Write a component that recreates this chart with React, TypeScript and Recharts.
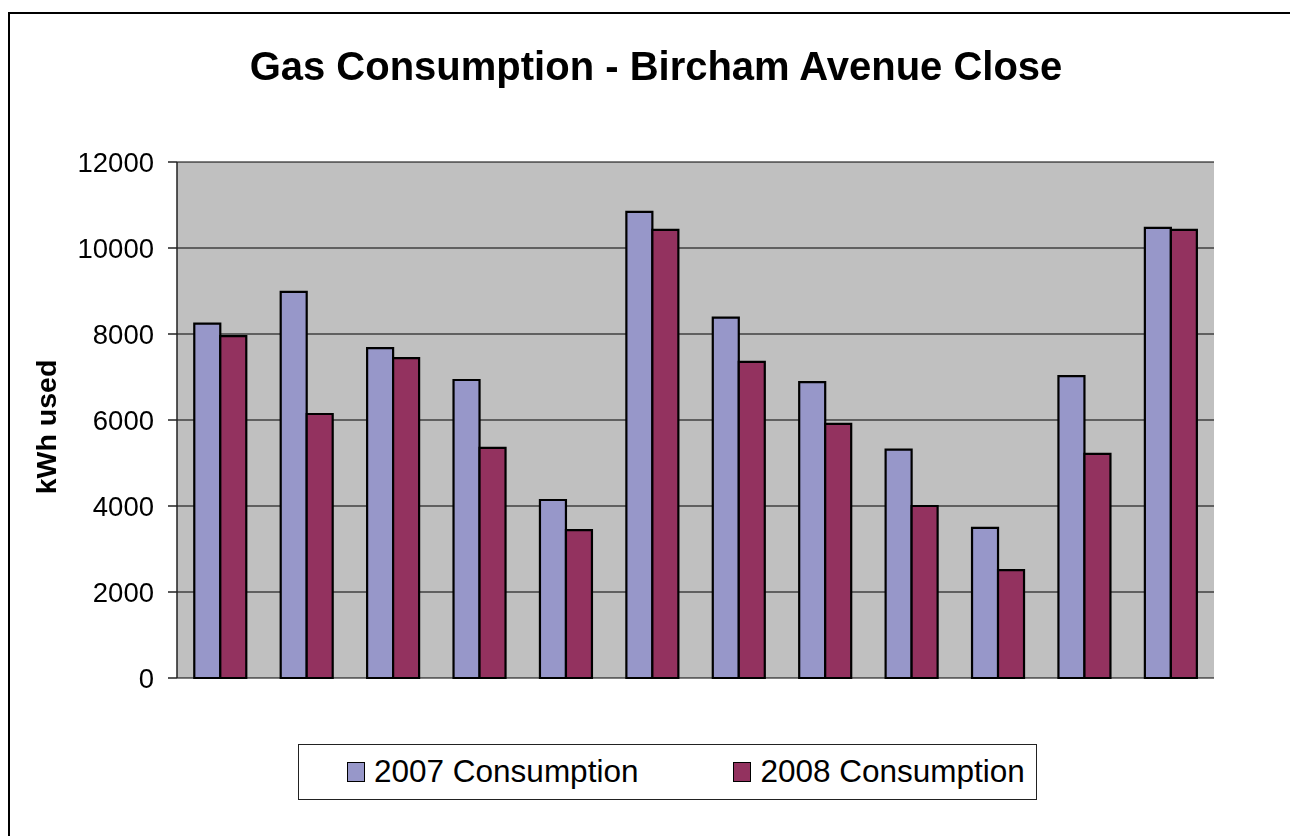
import { BarChart, Bar, XAxis, YAxis, CartesianGrid, Label } from 'recharts';

const properties = ['1', '2', '3', '4', '5', '6', '7', '8', '9', '10', '11', '12'];
const consumption2007 = [8240, 8980, 7670, 6930, 4140, 10840, 8380, 6880, 5310, 3490, 7020, 10470];
const consumption2008 = [7950, 6140, 7440, 5350, 3440, 10420, 7350, 5910, 4000, 2510, 5210, 10420];
const yTicks = [0, 2000, 4000, 6000, 8000, 10000, 12000];

const data = properties.map((name, i) => ({
  name,
  c2007: consumption2007[i],
  c2008: consumption2008[i],
}));

const FONT = '"Liberation Sans", Arial, sans-serif';
const COLOR_2007 = '#9797C9';
const COLOR_2008 = '#93325F';

function LegendItem({ color, label }: { color: string; label: string }) {
  return (
    <div style={{ display: 'flex', alignItems: 'center' }}>
      <div
        style={{
          width: 16,
          height: 18,
          background: color,
          border: '1.5px solid #000',
          marginRight: 9,
        }}
      />
      <span style={{ fontSize: 31.5, lineHeight: 1 }}>{label}</span>
    </div>
  );
}

export default function App() {
  return (
    <div style={{ position: 'fixed', left: 0, top: 0, width: 1290, height: 836, fontFamily: FONT, overflow: 'hidden' }}>
      <div
        style={{
          position: 'absolute',
          left: 8,
          top: 12,
          width: 1400,
          height: 900,
          borderLeft: '2px solid #000',
          borderTop: '2px solid #000',
        }}
      />
      <div
        style={{
          position: 'absolute',
          left: 0,
          top: 46,
          width: 1312,
          textAlign: 'center',
          fontSize: 40,
          fontWeight: 'bold',
          lineHeight: 1,
          color: '#000',
        }}
      >
        Gas Consumption - Bircham Avenue Close
      </div>
      <div style={{ position: 'absolute', left: 0, top: 0 }}>
        <BarChart
          width={1290}
          height={836}
          data={data}
          margin={{ top: 162, right: 76, bottom: 158, left: 0 }}
          barCategoryGap="20%"
          barGap={0}
        >
          <CartesianGrid vertical={false} fill="#C0C0C0" stroke="#000" strokeWidth={1.2} />
          <XAxis dataKey="name" tick={false} tickLine={false} height={0} axisLine={{ stroke: '#444', strokeWidth: 2 }} />
          <XAxis xAxisId="top" orientation="top" dataKey="name" tick={false} tickLine={false} height={0} axisLine={{ stroke: '#888', strokeWidth: 2 }} />
          <YAxis
            domain={[0, 12000]}
            ticks={yTicks}
            width={177}
            tickSize={9}
            tickMargin={14}
            interval={0}
            axisLine={{ stroke: '#222', strokeWidth: 1.5 }}
            tickLine={{ stroke: '#222', strokeWidth: 1.5 }}
            tick={{ fontSize: 27.5, fill: '#000', fontFamily: FONT }}
          >
            <Label
              content={() => (
                <text
                  x={46}
                  y={427}
                  transform="rotate(-90, 46, 427)"
                  textAnchor="middle"
                  dominantBaseline="central"
                  fontSize={28.5}
                  fontWeight="bold"
                  fontFamily={FONT}
                  fill="#000"
                >
                  kWh used
                </text>
              )}
            />
          </YAxis>
          <YAxis yAxisId="right" orientation="right" width={0} tick={false} tickLine={false} axisLine={{ stroke: '#888', strokeWidth: 2 }} />
          <Bar dataKey="c2007" name="2007 Consumption" fill={COLOR_2007} stroke="#000" strokeWidth={2.2} isAnimationActive={false} />
          <Bar dataKey="c2008" name="2008 Consumption" fill={COLOR_2008} stroke="#000" strokeWidth={2.2} isAnimationActive={false} />
        </BarChart>
      </div>
      <div
        style={{
          position: 'absolute',
          left: 298,
          top: 744,
          width: 739,
          height: 56,
          boxSizing: 'border-box',
          border: '1px solid #222',
          display: 'flex',
          alignItems: 'center',
          paddingLeft: 48,
          gap: 95,
          background: '#fff',
        }}
      >
        <LegendItem color={COLOR_2007} label="2007 Consumption" />
        <LegendItem color={COLOR_2008} label="2008 Consumption" />
      </div>
    </div>
  );
}
